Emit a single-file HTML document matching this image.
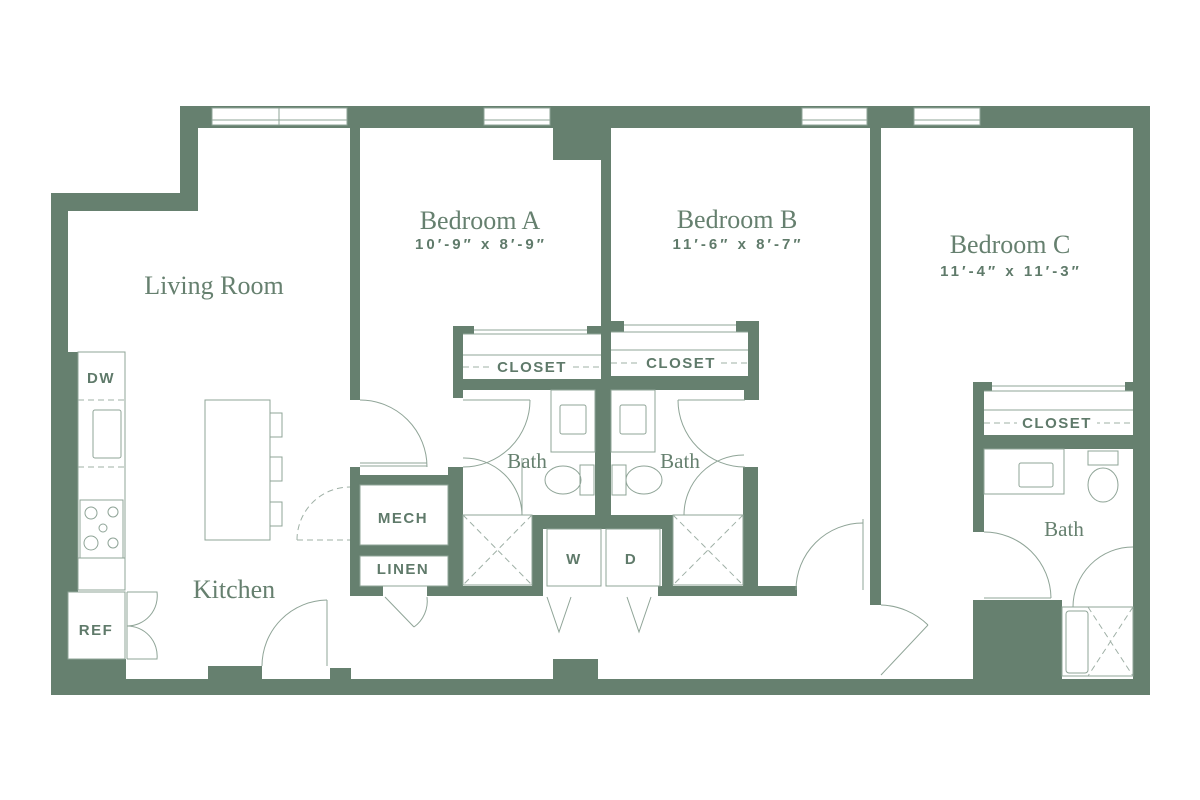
<!DOCTYPE html>
<html><head><meta charset="utf-8"><style>
html,body{margin:0;padding:0;background:#fff}
svg{display:block}
.w{fill:#66806f}
.l{fill:none;stroke:#8fa497;stroke-width:1}
.d{fill:none;stroke:#9fb0a6;stroke-width:1;stroke-dasharray:6 4}
.serif{font-family:"Liberation Serif",serif;fill:#66806f}
.sans{font-family:"Liberation Sans",sans-serif;font-weight:bold;fill:#5f7a6a;letter-spacing:1.5px}
</style></head><body>
<svg width="1200" height="800" viewBox="0 0 1200 800" xmlns="http://www.w3.org/2000/svg">
<rect class="w" x="180" y="106" width="970" height="22"/>
<rect class="w" x="180" y="106" width="18" height="105"/>
<rect class="w" x="51" y="193" width="147" height="18"/>
<rect class="w" x="51" y="193" width="17" height="502"/>
<rect class="w" x="51" y="352" width="27" height="240"/>
<rect class="w" x="51" y="659" width="75" height="36"/>
<rect class="w" x="51" y="679" width="1099" height="16"/>
<rect class="w" x="208" y="666" width="54" height="14"/>
<rect class="w" x="330" y="668" width="21" height="12"/>
<rect class="w" x="553" y="659" width="45" height="21"/>
<rect class="w" x="1133" y="106" width="17" height="589"/>
<rect class="w" x="553" y="128" width="48" height="32"/>
<g fill="#fff" stroke="#8fa497" stroke-width="1">
<rect x="212" y="108" width="135" height="17"/><rect x="484" y="108" width="66" height="17"/>
<rect x="802" y="108" width="65" height="17"/><rect x="914" y="108" width="66" height="17"/>
</g>
<g class="l"><line x1="212" y1="120" x2="347" y2="120"/><line x1="484" y1="120" x2="550" y2="120"/><line x1="802" y1="120" x2="867" y2="120"/><line x1="914" y1="120" x2="980" y2="120"/><line x1="279" y1="108" x2="279" y2="125"/></g>
<rect class="w" x="350" y="128" width="10" height="272"/>
<rect class="w" x="601" y="128" width="10" height="387"/>
<rect class="w" x="870" y="128" width="11" height="477"/>
<rect class="w" x="453" y="326" width="21" height="8"/>
<rect class="w" x="587" y="326" width="14" height="8"/>
<rect class="w" x="453" y="326" width="10" height="72"/>
<rect class="w" x="453" y="379" width="148" height="11"/>
<rect class="w" x="611" y="321" width="13" height="11"/>
<rect class="w" x="736" y="321" width="23" height="11"/>
<rect class="w" x="748" y="321" width="11" height="69"/>
<rect class="w" x="611" y="376" width="148" height="14"/>
<rect class="w" x="744" y="390" width="15" height="10"/>
<rect class="w" x="350" y="467" width="10" height="129"/>
<rect class="w" x="350" y="475" width="113" height="10"/>
<rect class="w" x="448" y="467" width="15" height="129"/>
<rect class="w" x="350" y="545" width="113" height="11"/>
<rect class="w" x="350" y="586" width="33" height="10"/>
<rect class="w" x="427" y="586" width="116" height="10"/>
<rect class="w" x="532" y="515" width="11" height="81"/>
<rect class="w" x="532" y="515" width="141" height="14"/>
<rect class="w" x="595" y="380" width="15" height="135"/>
<rect class="w" x="662" y="515" width="11" height="81"/>
<rect class="w" x="658" y="586" width="139" height="10"/>
<rect class="w" x="743" y="467" width="15" height="129"/>
<rect class="w" x="973" y="382" width="19" height="9"/>
<rect class="w" x="1125" y="382" width="8" height="9"/>
<rect class="w" x="973" y="382" width="11" height="150"/>
<rect class="w" x="984" y="435" width="149" height="14"/>
<rect class="w" x="973" y="600" width="89" height="79"/>
<rect class="w" x="870" y="600" width="11" height="5"/>
<g class="l">
<line x1="474" y1="330" x2="587" y2="330"/><line x1="463" y1="334" x2="601" y2="334"/><line x1="463" y1="355" x2="601" y2="355"/>
<line x1="624" y1="325" x2="736" y2="325"/><line x1="611" y1="332" x2="748" y2="332"/><line x1="611" y1="350" x2="748" y2="350"/>
<line x1="992" y1="386" x2="1125" y2="386"/><line x1="984" y1="391" x2="1133" y2="391"/><line x1="984" y1="410" x2="1133" y2="410"/>
</g>
<g class="d"><line x1="463" y1="367" x2="601" y2="367"/><line x1="611" y1="363" x2="748" y2="363"/><line x1="984" y1="423" x2="1133" y2="423"/></g>
<g fill="#fff"><rect x="492" y="358" width="80" height="18"/><rect x="641" y="354" width="80" height="18"/><rect x="1017" y="414" width="80" height="18"/></g>
<g class="l">
<rect x="78" y="352" width="47" height="238"/><rect x="68" y="592" width="57" height="67"/>
<rect x="93" y="410" width="28" height="48" rx="2"/>
<rect x="80" y="500" width="43" height="58"/>
<circle cx="91" cy="513" r="6"/><circle cx="113" cy="512" r="5"/><circle cx="103" cy="528" r="4"/><circle cx="91" cy="543" r="7"/><circle cx="113" cy="543" r="5"/>
<rect x="205" y="400" width="65" height="140"/>
<path d="M270 413h12v24h-12M270 457h12v24h-12M270 502h12v24h-12"/>
<line x1="78" y1="558" x2="125" y2="558"/>
</g>
<g class="d"><line x1="78" y1="400" x2="125" y2="400"/><line x1="78" y1="467" x2="125" y2="467"/></g>
<g class="l">
<rect x="551" y="390" width="44" height="62"/><rect x="560" y="405" width="26" height="29" rx="2"/>
<rect x="611" y="390" width="44" height="62"/><rect x="620" y="405" width="26" height="29" rx="2"/>
<rect x="580" y="465" width="14" height="30"/><ellipse cx="563" cy="480" rx="18" ry="14"/>
<rect x="612" y="465" width="14" height="30"/><ellipse cx="644" cy="480" rx="18" ry="14"/>
<rect x="984" y="449" width="80" height="45"/><rect x="1019" y="463" width="34" height="24" rx="2"/>
<rect x="1088" y="451" width="30" height="14"/><ellipse cx="1103" cy="485" rx="15" ry="17"/>
<rect x="463" y="515" width="69" height="70"/><rect x="673" y="515" width="70" height="70"/>
<rect x="547" y="529" width="54" height="57"/><rect x="606" y="529" width="54" height="57"/>
<rect x="1062" y="607" width="71" height="69"/><rect x="1066" y="611" width="22" height="62" rx="3"/>
<rect x="360" y="485" width="88" height="60"/><rect x="360" y="556" width="88" height="30"/>
</g>
<g class="d"><path d="M463 515l69 70M532 515l-69 70M673 515l70 70M743 515l-70 70M1088 607l45 69M1133 607l-45 69"/></g>
<g class="l">
<path d="M360 400A67 67 0 0 1 427 467"/><line x1="360" y1="466" x2="427" y2="466"/><line x1="360" y1="463" x2="427" y2="463"/>
<path d="M530 400A67 67 0 0 1 463 467"/><line x1="463" y1="400" x2="530" y2="400"/>
<path d="M463 458A58 58 0 0 1 522 515"/><line x1="522" y1="458" x2="522" y2="515"/>
<path d="M327 600A66 66 0 0 0 262 666"/><line x1="327" y1="600" x2="327" y2="666"/>
<path d="M127 592h30A30 30 0 0 1 127 626M127 659h30A30 30 0 0 0 127 626"/>
<line x1="127" y1="592" x2="127" y2="659"/>
<line x1="385" y1="597" x2="414" y2="627"/><path d="M414 627A32 32 0 0 0 427 597"/>
<path d="M547 597l12 35l12-35M627 597l12 35l12-35"/>
<path d="M678 400A67 67 0 0 0 745 467"/><line x1="678" y1="400" x2="745" y2="400"/>
<path d="M684 515A60 60 0 0 1 744 455"/>
<path d="M863 523A67 67 0 0 0 796 590"/><line x1="863" y1="519" x2="863" y2="590"/>
<path d="M881 605A70 70 0 0 1 928 625"/><line x1="881" y1="675" x2="928" y2="625"/>
<path d="M984 532A67 67 0 0 1 1051 598"/><line x1="984" y1="598" x2="1051" y2="598"/>
<path d="M1073 607A60 60 0 0 1 1133 547"/>
</g>
<path class="d" d="M297 540A53 53 0 0 1 350 487"/>
<line x1="297" y1="540" x2="350" y2="540" class="d"/>
<g class="serif" text-anchor="middle">
<text x="214" y="294" font-size="26">Living Room</text>
<text x="234" y="598" font-size="26">Kitchen</text>
<text x="480" y="229" font-size="26">Bedroom A</text>
<text x="737" y="228" font-size="26">Bedroom B</text>
<text x="1010" y="253" font-size="26">Bedroom C</text>
<text x="527" y="468" font-size="21">Bath</text>
<text x="680" y="468" font-size="21">Bath</text>
<text x="1064" y="536" font-size="21">Bath</text>
</g>
<g class="sans" text-anchor="middle" font-size="15" style="letter-spacing:3px">
<text x="481" y="249">10′-9″ x 8′-9″</text>
<text x="738" y="249">11′-6″ x 8′-7″</text>
<text x="1011" y="276">11′-4″ x 11′-3″</text>
</g>
<g class="sans" text-anchor="middle" font-size="15">
<text x="532" y="372">CLOSET</text>
<text x="681" y="368">CLOSET</text>
<text x="1057" y="428">CLOSET</text>
<text x="403" y="523">MECH</text>
<text x="403" y="574">LINEN</text>
<text x="574" y="564">W</text>
<text x="631" y="564">D</text>
<text x="101" y="383">DW</text>
<text x="96" y="635">REF</text>
</g>
</svg>
</body></html>
